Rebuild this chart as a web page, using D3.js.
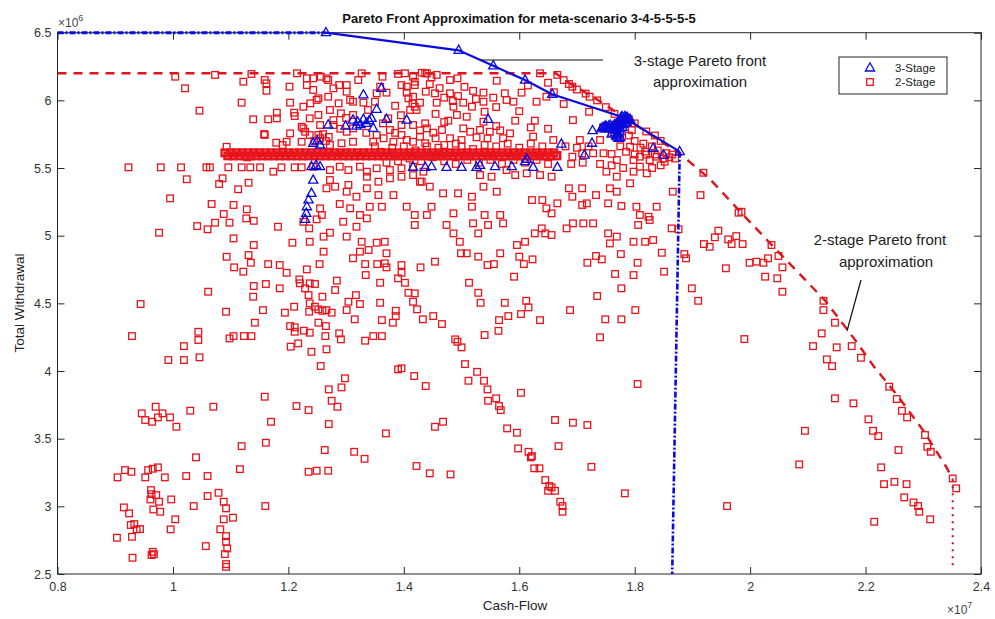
<!DOCTYPE html>
<html>
<head>
<meta charset="utf-8">
<script src="https://cdn.jsdelivr.net/npm/d3@7"></script>
<style>
  body { margin: 0; background: #fff; }
  svg text { font-family: "Liberation Sans", Arial, Helvetica, sans-serif; }
</style>
</head>
<body>
<svg id="chart" width="995" height="619"></svg>
<script>
// Axis ticks (cash-flow in units of 1e7, withdrawal in units of 1e6)
const xTicks = [0.8, 1, 1.2, 1.4, 1.6, 1.8, 2, 2.2, 2.4];
const yTicks = [2.5, 3, 3.5, 4, 4.5, 5, 5.5, 6, 6.5];

// 2-stage solutions [cash-flow, total withdrawal]
const twoStagePoints = [
  [0.903,2.768],[0.917,3.268],[0.904,3.214],[0.928,3.255],[0.915,2.992],[0.924,2.948],[0.927,2.862],[0.933,2.869],[0.929,2.775],[0.937,2.830],[0.943,2.832],[0.930,2.620],[0.952,3.214],[0.957,3.268],[0.965,3.278],[0.974,3.288],[0.986,3.214],[0.962,3.120],[0.963,3.090],[0.971,3.083],[0.961,3.051],[0.976,3.034],[0.966,2.977],[0.978,2.960],[0.997,3.051],[1.004,2.904],[0.996,2.830],[0.965,2.664],[0.963,2.640],[0.967,2.647],[1.023,3.224],[1.040,3.362],[1.036,3.002],[1.060,3.224],[1.060,3.076],[1.079,3.100],[1.057,2.706],[1.088,3.034],[1.092,2.985],[1.082,2.830],[1.088,2.904],[1.104,2.916],[1.092,2.780],[1.092,2.738],[1.094,2.689],[1.090,2.647],[1.092,2.573],[1.092,2.553],[1.119,3.445],[1.116,3.275],[1.161,3.470],[1.160,3.002],[1.235,3.255],[1.249,3.263],[1.269,3.263],[1.263,3.416],[1.314,3.403],[1.332,3.351],[1.369,3.539],[1.422,3.298],[1.445,3.244],[1.481,3.236],
  [1.596,3.544],[1.598,3.428],[1.616,3.403],[1.622,3.371],[1.620,3.362],[1.668,3.445],[1.626,3.281],[1.635,3.281],[1.645,3.194],[1.652,3.150],[1.656,3.140],[1.650,3.115],[1.662,3.115],[1.671,3.034],[1.675,3.002],[1.675,2.960],[1.725,3.292],[1.783,3.096],[1.960,3.002],[2.085,3.310],[2.095,3.558],[2.213,3.558],[2.222,3.519],[2.257,3.416],[2.227,3.288],[2.232,3.164],[2.250,3.181],[2.271,3.164],[2.267,3.066],[2.283,3.029],[2.291,3.002],[2.293,2.960],[2.312,2.904],[2.215,2.886],[2.303,3.527],[2.307,3.440],[2.313,3.403],[2.351,3.206],[2.357,3.133],
  [1.990,4.236],[2.124,4.278],[2.109,4.184],[2.150,4.175],[2.176,4.184],[2.133,4.086],[2.142,4.036],[2.192,4.098],[2.147,3.798],[2.179,3.761],[2.241,3.884],[2.254,3.793],[2.263,3.706],[2.272,3.657],[2.205,3.643],
  [1.919,5.465],[1.914,5.300],[1.866,5.325],[1.980,5.170],[1.985,5.177],[1.864,5.054],[1.876,5.047],[1.847,4.874],[1.851,4.734],[1.886,4.864],[1.889,4.833],[1.945,5.037],[1.939,4.988],[1.962,4.973],[1.976,4.997],[1.968,4.938],[1.920,4.938],[1.930,4.918],[1.987,4.938],[1.958,4.759],[1.899,4.611],[1.910,4.519],[2.037,4.931],[2.049,4.850],[2.056,4.766],[1.999,4.800],[2.011,4.808],[2.023,4.800],[2.031,4.833],[2.026,4.697],[2.047,4.685],[2.056,4.586],[2.127,4.519],[2.127,4.450],[2.147,4.357],
  [1.396,4.783],[1.396,4.726],[1.402,4.652],[1.408,4.578],[1.419,4.574],[1.416,4.512],[1.423,4.456],[1.433,4.382],[1.451,4.406],[1.466,4.347],[1.429,4.766],[1.454,4.808],[1.499,4.870],[1.529,4.845],[1.545,4.783],[1.556,4.790],[1.513,4.652],[1.529,4.578],[1.533,4.504],[1.591,4.697],[1.600,4.845],[1.608,4.790],[1.623,4.825],[1.575,4.504],[1.612,4.519],[1.616,4.470],[1.581,4.406],[1.565,4.376],[1.603,4.421],[1.636,4.376],[1.564,4.297],[1.540,4.266],[1.688,4.450],[1.735,4.554],[1.749,4.382],[1.777,4.382],[1.801,4.450],[1.740,4.249],[1.718,4.800],[1.733,4.850],[1.743,4.825],[1.776,4.864],[1.766,4.717],[1.798,4.709],[1.805,4.800],[1.777,4.611],[1.489,4.234],[1.493,4.216],[1.500,4.175],[1.506,4.051],[1.527,3.994],[1.512,3.928],[1.539,3.928],[1.545,3.864],[1.546,3.780],[1.560,3.798],[1.565,3.741],[1.568,3.711],[1.603,3.839],[1.579,3.576],[1.662,3.638],[1.693,3.618],[1.718,3.601],[1.805,3.904],[1.418,3.963],[1.438,3.889],[1.396,4.020],[1.454,3.588],[1.468,3.625],
  [0.970,3.736],[0.946,3.687],[0.952,3.638],[0.964,3.625],[0.974,3.657],[0.982,3.687],[0.995,3.657],[1.006,3.588],[1.030,3.707],[1.070,3.736],[1.159,3.810],[1.170,3.625],[1.270,3.864],[1.292,3.879],[1.275,3.780],[1.285,3.736],[1.214,3.741],[1.235,3.711],[1.270,3.608],
  [1.106,4.766],[1.122,4.734],[1.135,4.800],[1.165,4.790],[1.185,4.783],[1.197,4.726],[1.232,4.751],[1.254,4.790],[1.312,4.833],[1.333,4.790],[1.334,4.709],[1.354,4.790],[1.367,4.796],[1.370,4.766],[1.390,4.685],[1.359,4.652],[1.061,4.586],[0.944,4.495],[0.929,4.258],[1.092,4.438],[1.139,4.549],[1.140,4.628],[1.161,4.643],[1.185,4.611],[1.219,4.677],[1.220,4.648],[1.237,4.648],[1.246,4.643],[1.229,4.611],[1.235,4.561],[1.259,4.549],[1.237,4.500],[1.246,4.475],[1.252,4.456],[1.259,4.445],[1.266,4.450],[1.236,4.438],[1.210,4.475],[1.194,4.431],[1.156,4.450],[1.142,4.357],[1.252,4.357],[1.265,4.332],[1.275,4.431],[1.203,4.332],[1.211,4.323],[1.211,4.290],[1.227,4.298],[1.237,4.283],[1.264,4.258],[1.288,4.278],[1.291,4.234],[1.204,4.180],[1.217,4.204],[1.240,4.142],[1.266,4.160],[1.256,4.037],[1.044,4.290],[1.044,4.229],[1.019,4.184],[0.992,4.081],[1.019,4.081],[1.046,4.101],[1.098,4.241],[1.105,4.258],[1.123,4.258],[1.136,4.258],[1.317,4.561],[1.304,4.512],[1.324,4.495],[1.301,4.450],[1.315,4.382],[1.284,4.668],[1.281,4.598],[1.359,4.504],[1.362,4.376],[1.381,4.357],[1.386,4.445],[1.386,4.406],[1.333,4.224],[1.347,4.258],[1.362,4.258],[1.298,3.946],[1.390,4.012],
  [1.073,6.188],[1.136,6.195],[1.215,6.200],[1.232,6.163],[1.327,6.200],[1.363,6.175],[1.390,6.195],[1.416,6.175],[1.431,6.204],[1.004,6.175],[1.021,6.089],[1.046,5.924],[1.122,6.138],[1.159,6.150],[1.162,6.071],[1.139,5.860],[1.165,5.860],[1.159,5.744],[1.180,5.867],[1.202,6.101],[1.203,5.983],[1.211,5.884],[1.232,6.113],[1.243,6.077],[1.226,5.953],[1.238,5.978],[1.249,6.003],[1.252,5.892],[1.223,5.805],[1.229,5.768],[1.203,5.756],[1.190,5.670],[1.223,5.694],[1.256,6.175],[1.269,6.150],[1.278,6.089],[1.269,6.027],[1.301,6.113],[1.307,6.003],[1.321,6.150],[1.291,5.904],[1.312,5.892],[1.278,5.818],[1.359,6.101],[1.373,5.867],[1.093,5.657],[1.129,5.579],[1.131,5.391],[1.113,5.343],[1.080,5.382],[1.086,5.424],[0.995,5.276],[1.024,5.417],[0.923,5.505],[0.979,5.505],[1.014,5.505],[1.058,5.505],[1.064,5.505],[1.096,5.505],[1.119,5.505],[1.134,5.505],[1.151,5.505],[1.174,5.473],[1.188,5.505],[1.211,5.505],[1.223,5.505],[1.119,5.983],[1.162,6.126],[1.180,5.909],[1.210,5.909],[1.158,5.751],[1.179,5.687],[1.197,5.694],[0.976,5.022],[1.067,5.234],[1.088,5.160],[1.105,5.227],[1.128,5.195],[1.127,5.128],[1.140,5.110],[1.073,5.096],[1.042,5.071],[1.060,5.047],[1.098,5.096],[1.182,5.066],[1.207,4.948],[1.105,4.980],[1.140,4.931],[1.093,4.844],[1.131,4.857],
  [1.243,6.163],[1.266,6.163],[1.288,6.113],[1.301,6.064],[1.252,6.015],[1.287,5.978],[1.272,5.929],[1.312,5.990],[1.330,5.983],[1.338,5.929],[1.353,6.052],[1.370,6.057],[1.396,6.113],[1.405,6.057],[1.419,6.113],[1.416,6.027],[1.415,5.978],[1.422,5.929],[1.437,6.200],[1.438,6.064],[1.237,5.867],[1.278,5.854],[1.255,5.818],[1.226,5.793],[1.237,5.744],[1.252,5.744],[1.301,5.768],[1.312,5.793],[1.364,5.830],[1.376,5.781],[1.396,5.818],[1.396,5.744],[1.428,5.778],[1.437,5.830],[1.272,5.670],[1.292,5.683],[1.312,5.694],[1.353,5.744],[1.347,5.694],[1.382,5.694],[1.416,5.694],[1.437,5.683],[1.243,5.510],[1.272,5.485],[1.289,5.510],[1.304,5.485],[1.324,5.510],[1.336,5.473],[1.353,5.498],[1.376,5.485],[1.396,5.498],[1.416,5.510],[1.434,5.473],[1.272,5.411],[1.281,5.362],[1.304,5.375],[1.336,5.436],[1.356,5.399],[1.376,5.424],[1.396,5.436],[1.428,5.399],[1.266,5.350],[1.301,5.325],[1.336,5.350],[1.318,5.288],[1.356,5.300],[1.382,5.300],[1.255,5.202],[1.258,5.153],[1.289,5.234],[1.307,5.202],[1.324,5.153],[1.341,5.214],[1.362,5.214],[1.405,5.214],[1.419,5.153],[1.419,5.079],[1.249,5.121],[1.295,5.103],[1.336,5.128],[1.318,5.066],[1.226,5.103],[1.236,5.054],[1.272,5.022],[1.301,4.993],[1.327,4.955],[1.339,4.894],[1.353,4.948],[1.367,4.955],[1.237,4.955],[1.261,4.993],[1.261,4.882],[1.324,4.882],[1.370,4.870],
  [1.402,6.200],[1.440,6.200],[1.448,6.170],[1.457,6.188],[1.405,6.101],[1.419,6.138],[1.408,6.015],[1.428,5.983],[1.419,5.953],[1.411,5.929],[1.457,5.983],[1.454,6.052],[1.480,6.150],[1.493,6.163],[1.480,6.052],[1.494,6.032],[1.503,5.983],[1.486,5.953],[1.518,5.953],[1.477,5.850],[1.492,5.892],[1.509,5.879],[1.538,6.057],[1.538,5.990],[1.540,5.916],[1.538,5.842],[1.561,6.145],[1.575,6.052],[1.578,6.003],[1.604,6.057],[1.593,5.850],[1.627,5.850],[1.630,5.990],[1.647,6.027],[1.636,6.200],[1.666,6.188],[1.677,6.150],[1.686,6.121],[1.692,6.101],[1.677,5.973],[1.693,5.854],[1.721,5.916],[1.722,6.027],[1.416,5.818],[1.440,5.793],[1.451,5.761],[1.466,5.781],[1.503,5.793],[1.515,5.768],[1.532,5.781],[1.549,5.768],[1.567,5.778],[1.584,5.756],[1.480,5.720],[1.500,5.707],[1.526,5.727],[1.545,5.720],[1.572,5.720],[1.624,5.732],[1.659,5.707],[1.405,5.707],[1.428,5.732],[1.705,5.707],[1.740,5.707],
  [1.666,5.596],[1.692,5.584],[1.709,5.609],[1.728,5.609],[1.746,5.609],[1.760,5.604],[1.769,5.559],[1.792,5.657],[1.798,5.559],[1.809,5.584],[1.818,5.621],[1.826,5.559],[1.838,5.584],[1.809,5.510],[1.821,5.461],[1.792,5.387],[1.769,5.436],[1.852,5.547],[1.798,5.473],[1.751,5.473],
  [1.416,5.448],[1.445,5.362],[1.431,5.399],[1.468,5.313],[1.448,5.214],[1.486,5.165],[1.494,5.313],[1.518,5.288],[1.518,5.214],[1.538,5.362],[1.561,5.325],[1.532,5.448],[1.552,5.436],[1.578,5.485],[1.593,5.448],[1.613,5.461],[1.636,5.448],[1.656,5.436],[1.622,5.263],[1.640,5.263],[1.647,5.202],[1.656,5.165],[1.666,5.239],[1.686,5.350],[1.692,5.288],[1.709,5.350],[1.733,5.300],[1.754,5.239],[1.709,5.227],[1.777,5.220],[1.757,5.350],[1.769,5.325],[1.717,5.239],[1.803,5.214],[1.838,5.214],[1.809,5.153],[1.824,5.140],[1.826,5.116],[1.806,5.079],[1.486,5.017],[1.529,5.017],[1.546,5.079],[1.567,5.153],[1.572,5.091],[1.520,5.091],[1.540,5.153],[1.596,4.931],[1.610,4.955],[1.627,5.017],[1.639,5.054],[1.645,5.017],[1.656,5.005],[1.682,5.054],[1.693,5.091],[1.711,5.091],[1.728,5.091],[1.754,5.017],[1.769,4.993],[1.757,4.943],[1.798,4.955],[1.818,4.955],[1.832,4.968],[1.440,5.153],[1.474,5.079],[1.497,4.955],[1.509,4.870],[1.567,4.870],
  [1.745,5.800],[1.760,5.760],[1.775,5.720],[1.790,5.740],[1.800,5.700],[1.815,5.680],[1.830,5.660],[1.840,5.630],[1.855,5.610],[1.860,5.580],[1.785,5.620],[1.800,5.600],[1.820,5.600],[1.775,5.660],[1.810,5.650],[1.835,5.600],[1.850,5.570],[1.865,5.600],[1.870,5.570],[1.795,5.780],
  [1.700,6.080],[1.715,6.050],[1.735,6.000],[1.750,5.950],[1.765,5.900],[1.790,5.860],[1.800,5.830],[1.820,5.770],[1.835,5.740],[1.845,5.700],
  [1.360,5.620],[1.380,5.650],[1.400,5.660],[1.420,5.630],[1.440,5.660],[1.390,5.550],[1.410,5.570],[1.430,5.550],[1.450,5.580],[1.370,5.540],[1.350,5.660],[1.460,5.650],[1.470,5.550],[1.490,5.530],[1.510,5.560],[1.530,5.540],[1.550,5.560],[1.570,5.530],[1.590,5.560],[1.610,5.540],[1.630,5.560],[1.650,5.530],[1.500,5.660],[1.520,5.640],[1.560,5.660],[1.600,5.650],[1.640,5.660],
  [1.245,5.700],[1.255,5.720],[1.265,5.700],[1.260,5.750],[1.270,5.730],
  [1.445,6.120],[1.462,6.090],[1.470,6.020],[1.485,5.995],[1.505,6.100],[1.520,6.070],[1.525,6.010],[1.555,6.020],[1.560,5.950],[1.590,5.990],[1.600,5.920],[1.615,6.110],[1.650,6.130],[1.660,6.060],[1.620,5.800],[1.650,5.790],[1.560,5.810],[1.455,5.900],[1.470,5.840],[1.350,5.990],[1.385,5.960],[1.395,5.890],[1.335,5.760],[1.365,5.720],[1.385,5.760],[1.290,5.790],[1.300,5.870],[1.455,5.720],[1.470,5.670],[1.490,5.680],[1.540,5.670],[1.580,5.680],[1.620,5.680],[1.680,5.660],[1.700,5.650],[1.720,5.660],[1.690,5.530],[1.710,5.540],[1.740,5.530],[1.760,5.520],[1.780,5.500],[1.830,5.500],[1.845,5.520]
];

// 2-stage solutions crowded along the 5.6e6 withdrawal level
const twoStageBand = [
  [1.090,5.612],[1.095,5.590],[1.100,5.612],[1.105,5.590],[1.110,5.612],[1.115,5.590],[1.120,5.612],[1.125,5.590],[1.130,5.612],[1.135,5.590],[1.140,5.612],[1.145,5.590],[1.150,5.612],[1.155,5.590],[1.160,5.612],[1.165,5.590],[1.170,5.612],[1.175,5.590],[1.180,5.612],[1.185,5.590],[1.190,5.612],[1.195,5.590],[1.200,5.612],[1.205,5.590],[1.210,5.612],[1.215,5.590],[1.220,5.612],[1.225,5.590],[1.230,5.612],[1.235,5.590],[1.240,5.612],[1.245,5.590],[1.250,5.612],[1.255,5.590],[1.260,5.612],[1.265,5.590],[1.270,5.612],[1.275,5.590],[1.280,5.612],[1.285,5.590],[1.290,5.612],[1.295,5.590],[1.300,5.612],[1.305,5.590],[1.310,5.612],[1.315,5.590],[1.320,5.612],[1.325,5.590],[1.330,5.612],[1.335,5.590],[1.340,5.612],[1.345,5.590],[1.350,5.612],[1.355,5.590],[1.360,5.612],[1.365,5.590],[1.370,5.612],[1.375,5.590],[1.380,5.612],[1.385,5.590],[1.390,5.612],[1.395,5.590],[1.400,5.612],[1.405,5.590],[1.410,5.612],[1.415,5.590],[1.420,5.612],[1.425,5.590],[1.430,5.612],[1.435,5.590],[1.440,5.612],[1.445,5.590],[1.450,5.612],[1.455,5.590],[1.460,5.612],[1.465,5.590],[1.470,5.612],[1.475,5.590],[1.480,5.612],[1.485,5.590],[1.490,5.612],[1.495,5.590],[1.500,5.612],[1.505,5.590],[1.510,5.612],[1.515,5.590],[1.520,5.612],[1.525,5.590],[1.530,5.612],[1.535,5.590],[1.540,5.612],[1.545,5.590],[1.550,5.612],[1.555,5.590],[1.560,5.612],[1.565,5.590],[1.570,5.612],[1.575,5.590],[1.580,5.612],[1.585,5.590],[1.590,5.612],[1.595,5.590],[1.600,5.612],[1.605,5.590],[1.610,5.612],[1.615,5.590],[1.620,5.612],[1.625,5.590],[1.630,5.612],[1.635,5.590],[1.640,5.612],[1.645,5.590],[1.650,5.612],[1.655,5.590],[1.660,5.612],[1.665,5.590]
];

// 3-stage solutions
const threeStagePoints = [
  [1.265,6.500],[1.495,6.370],[1.555,6.255],[1.610,6.150],[1.657,6.045],[1.878,5.621],
  [1.405,5.854],[1.546,5.860],[1.673,5.677],[1.727,5.776],[1.726,5.683],[1.713,5.596],[1.832,5.646],[1.850,5.596],
  [1.416,5.505],[1.437,5.505],[1.448,5.510],[1.474,5.505],[1.500,5.505],[1.526,5.505],[1.532,5.520],[1.558,5.510],[1.587,5.510],[1.610,5.547],[1.613,5.565],[1.624,5.505],[1.666,5.505],
  [1.330,6.040],[1.361,6.089],[1.269,5.818],[1.299,5.810],[1.312,5.854],[1.320,5.840],[1.325,5.820],[1.330,5.860],[1.335,5.830],[1.340,5.850],[1.318,5.810],[1.353,5.934],[1.344,5.867],[1.347,5.793],[1.370,5.860],
  [1.243,5.683],[1.250,5.700],[1.255,5.670],[1.240,5.510],[1.255,5.510],[1.248,5.520],[1.243,5.411],[1.240,5.313],[1.235,5.264],[1.232,5.214],[1.231,5.165],[1.229,5.121],
  [1.745,5.800],[1.750,5.790],[1.755,5.810],[1.760,5.800],[1.765,5.820],[1.770,5.830],[1.775,5.840],[1.780,5.860],[1.785,5.870],[1.778,5.880],[1.782,5.850],[1.770,5.800],[1.765,5.780],[1.770,5.760],[1.768,5.740],[1.772,5.720],[1.760,5.750],[1.775,5.790],[1.780,5.820],[1.790,5.855],[1.785,5.840],[1.750,5.810],[1.742,5.790],
  [1.748,5.805],[1.752,5.800],[1.758,5.815],[1.762,5.805],[1.768,5.825],[1.772,5.835],[1.776,5.850],[1.781,5.865],[1.787,5.875],[1.776,5.870],[1.783,5.880],[1.788,5.860],[1.773,5.810],[1.768,5.790],[1.774,5.770],[1.771,5.750],[1.769,5.730],[1.775,5.725],[1.766,5.760],[1.779,5.800],[1.784,5.830],[1.792,5.860],[1.757,5.790]
];

// Pareto front approximations
const threeStageFrontFlat = [[0.8,6.5],[1.265,6.5]];
const threeStageFrontCurve = [[1.265,6.5],[1.495,6.37],[1.555,6.255],[1.61,6.15],[1.657,6.045],[1.78,5.875],[1.878,5.621]];
const threeStageFrontDrop = [[1.878,5.621],[1.865,2.5]];
const twoStageFront = [[0.8,6.2],[1.663,6.2],[1.69,6.12],[1.73,6.02],[1.78,5.88],[1.88,5.6],[1.93,5.42],[1.98,5.19],[2.04,4.92],[2.13,4.52],[2.18,4.24],[2.215,4.03],[2.255,3.82],[2.3,3.56],[2.34,3.29],[2.351,3.2]];
const twoStageFrontTail = [[2.351,3.2],[2.351,2.55]];

const W = 995, H = 619;
const plot = { left: 57.5, right: 981, top: 32.7, bottom: 574 };
const RED = "#e8141c", BLUE = "#0a0adf", INK = "#262626";

const svg = d3.select("#chart");
svg.append("rect").attr("width", W).attr("height", H).attr("fill", "#fff");

const x = d3.scaleLinear().domain([0.8, 2.4]).range([plot.left, plot.right]);
const y = d3.scaleLinear().domain([2.5, 6.5]).range([plot.bottom, plot.top]);
const fmt = d3.format("~g");

// Axes with inward ticks on all four sides
function styleAxis(g) {
  g.select(".domain").remove();
  g.selectAll(".tick line").attr("stroke", INK);
  g.selectAll(".tick text").attr("fill", "#333").style("font-size", "12.5px")
    .style("font-family", '"Liberation Sans", Arial, Helvetica, sans-serif');
}
svg.append("g").attr("transform", `translate(0,${plot.bottom})`)
  .call(d3.axisBottom(x).tickValues(xTicks).tickFormat(fmt).tickSize(-7).tickSizeOuter(0).tickPadding(8))
  .call(styleAxis);
svg.append("g").attr("transform", `translate(0,${plot.top})`)
  .call(d3.axisTop(x).tickValues(xTicks).tickFormat("").tickSize(-7).tickSizeOuter(0))
  .call(styleAxis);
svg.append("g").attr("transform", `translate(${plot.left},0)`)
  .call(d3.axisLeft(y).tickValues(yTicks).tickFormat(fmt).tickSize(-7).tickSizeOuter(0).tickPadding(6))
  .call(styleAxis);
svg.append("g").attr("transform", `translate(${plot.right},0)`)
  .call(d3.axisRight(y).tickValues(yTicks).tickFormat("").tickSize(-7).tickSizeOuter(0))
  .call(styleAxis);

svg.append("rect")
  .attr("x", plot.left).attr("y", plot.top)
  .attr("width", plot.right - plot.left).attr("height", plot.bottom - plot.top)
  .attr("fill", "none").attr("stroke", INK).attr("stroke-width", 1);

const marks = svg.append("g");
const line = d3.line().x(d => x(d[0])).y(d => y(d[1]));
const sq = 6.6;
const triPath = "M0,-5.2L4.6,3L-4.6,3Z";

// 2-stage squares
marks.append("g").selectAll("rect")
  .data(twoStagePoints)
  .join("rect")
  .attr("x", d => x(d[0]) - sq / 2).attr("y", d => y(d[1]) - sq / 2)
  .attr("width", sq).attr("height", sq)
  .attr("fill", "none").attr("stroke", RED).attr("stroke-width", 1.3);
marks.append("g").selectAll("rect")
  .data(twoStageBand)
  .join("rect")
  .attr("x", d => x(d[0]) - sq / 2).attr("y", d => y(d[1]) - sq / 2)
  .attr("width", sq).attr("height", sq)
  .attr("fill", "none").attr("stroke", RED).attr("stroke-width", 2.4);

// 2-stage front
marks.append("path").datum(twoStageFront).attr("d", line)
  .attr("fill", "none").attr("stroke", "#e0141c").attr("stroke-width", 2.4)
  .attr("stroke-dasharray", "9,7");
marks.append("path").datum(twoStageFrontTail).attr("d", line)
  .attr("fill", "none").attr("stroke", "#c8101a").attr("stroke-width", 2)
  .attr("stroke-dasharray", "2,5");

// 3-stage triangles
marks.append("g").selectAll("path")
  .data(threeStagePoints)
  .join("path")
  .attr("transform", d => `translate(${x(d[0])},${y(d[1])})`)
  .attr("d", triPath)
  .attr("fill", "none").attr("stroke", BLUE).attr("stroke-width", 1.3);

// 3-stage front
marks.append("path").datum(threeStageFrontFlat).attr("d", line)
  .attr("fill", "none").attr("stroke", BLUE).attr("stroke-width", 3)
  .attr("stroke-dasharray", "6,2,2,2");
marks.append("path").datum(threeStageFrontCurve).attr("d", line)
  .attr("fill", "none").attr("stroke", BLUE).attr("stroke-width", 2.2);
marks.append("path").datum(threeStageFrontDrop).attr("d", line)
  .attr("fill", "none").attr("stroke", BLUE).attr("stroke-width", 2.6)
  .attr("stroke-dasharray", "6,2,2,2");

// Annotations
const ann = svg.append("g").attr("fill", "#222").style("font-size", "15px").attr("text-anchor", "middle");
ann.append("text").attr("x", 700).attr("y", 66).text("3-stage Pareto front");
ann.append("text").attr("x", 700).attr("y", 87).text("approximation");
ann.append("text").attr("x", 880).attr("y", 245).text("2-stage Pareto front");
ann.append("text").attr("x", 886).attr("y", 267).text("approximation");
svg.append("line").attr("x1", 481).attr("y1", 60).attr("x2", 603).attr("y2", 60)
  .attr("stroke", "#111").attr("stroke-width", 1.2);
svg.append("line").attr("x1", 861).attr("y1", 280).attr("x2", 847).attr("y2", 331)
  .attr("stroke", "#111").attr("stroke-width", 1.2);

// Legend
const lg = svg.append("g");
lg.append("rect").attr("x", 839).attr("y", 57).attr("width", 108).attr("height", 37)
  .attr("fill", "#fff").attr("stroke", INK).attr("stroke-width", 1);
lg.append("path").attr("transform", "translate(870,68)").attr("d", triPath)
  .attr("fill", "none").attr("stroke", BLUE).attr("stroke-width", 1.3);
lg.append("rect").attr("x", 870 - sq / 2).attr("y", 82 - sq / 2).attr("width", sq).attr("height", sq)
  .attr("fill", "none").attr("stroke", RED).attr("stroke-width", 1.3);
lg.append("text").attr("x", 895).attr("y", 72).style("font-size", "11.5px").attr("fill", "#222").text("3-Stage");
lg.append("text").attr("x", 895).attr("y", 86).style("font-size", "11.5px").attr("fill", "#222").text("2-Stage");

// Title and axis labels
svg.append("text").attr("x", 519).attr("y", 23).attr("text-anchor", "middle")
  .style("font-size", "13px").style("font-weight", "bold").attr("fill", "#111")
  .text("Pareto Front Approximation for meta-scenario 3-4-5-5-5-5");
svg.append("text").attr("x", 515).attr("y", 610).attr("text-anchor", "middle")
  .style("font-size", "13.5px").attr("fill", "#222").text("Cash-Flow");
svg.append("text").attr("transform", "translate(24,303) rotate(-90)").attr("text-anchor", "middle")
  .style("font-size", "13.5px").attr("fill", "#222").text("Total Withdrawal");

// Exponent multipliers
const e6 = svg.append("text").attr("x", 58).attr("y", 27).attr("fill", "#444").style("font-size", "12px");
e6.append("tspan").text("×10");
e6.append("tspan").attr("dy", -6).style("font-size", "9px").text("6");
const e7 = svg.append("text").attr("x", 947).attr("y", 614).attr("fill", "#444").style("font-size", "12px");
e7.append("tspan").text("×10");
e7.append("tspan").attr("dy", -6).style("font-size", "9px").text("7");
</script>
</body>
</html>
